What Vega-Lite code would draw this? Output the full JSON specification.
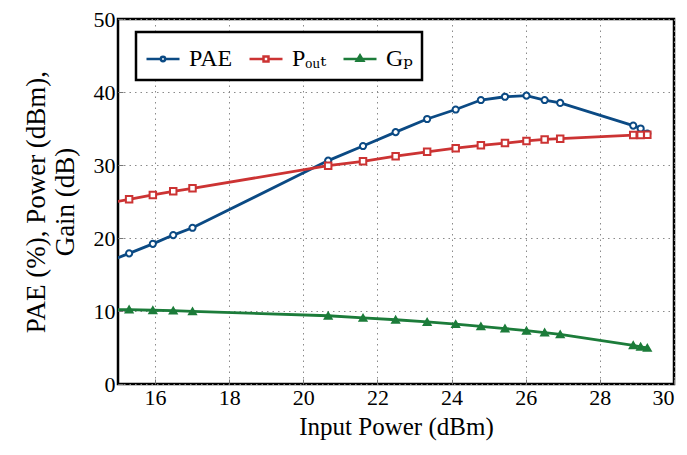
{
  "$schema": "https://vega.github.io/schema/vega-lite/v6.json",
  "width": 556,
  "height": 365,
  "autosize": {"type": "none"},
  "padding": {"left": 118, "top": 19, "right": 13, "bottom": 71},
  "background": "white",
  "config": {
    "font": "'Liberation Serif', 'DejaVu Serif', serif",
    "view": {"stroke": "black", "strokeWidth": 2.5},
    "axis": {
      "domain": false,
      "grid": true,
      "gridColor": "#8a8a8a",
      "gridDash": [1.5, 4],
      "gridWidth": 1,
      "tickSize": -5,
      "tickColor": "#777777",
      "labelFont": "'Liberation Serif', 'DejaVu Serif', serif",
      "labelFontSize": 22,
      "labelColor": "black",
      "labelPadding": 8,
      "titleFont": "'Liberation Serif', 'DejaVu Serif', serif",
      "titleFontSize": 25,
      "titleFontWeight": "normal",
      "titleColor": "black"
    },
    "legend": {"strokeWidth": 2.5}
  },
  "data": {
    "values": [
      {"x": 14.7, "series": "PAE", "y": 16.7},
      {"x": 15.3, "series": "PAE", "y": 17.9},
      {"x": 15.94, "series": "PAE", "y": 19.2},
      {"x": 16.49, "series": "PAE", "y": 20.4},
      {"x": 17.01, "series": "PAE", "y": 21.4},
      {"x": 20.67, "series": "PAE", "y": 30.6},
      {"x": 21.61, "series": "PAE", "y": 32.6},
      {"x": 22.49, "series": "PAE", "y": 34.5},
      {"x": 23.34, "series": "PAE", "y": 36.3},
      {"x": 24.11, "series": "PAE", "y": 37.6},
      {"x": 24.79, "series": "PAE", "y": 38.9},
      {"x": 25.44, "series": "PAE", "y": 39.35},
      {"x": 26.02, "series": "PAE", "y": 39.5},
      {"x": 26.51, "series": "PAE", "y": 38.9},
      {"x": 26.93, "series": "PAE", "y": 38.5},
      {"x": 28.9, "series": "PAE", "y": 35.4},
      {"x": 29.1, "series": "PAE", "y": 35.0},
      {"x": 29.28, "series": "PAE", "y": 34.3},
      {"x": 14.7, "series": "Pout", "y": 24.75},
      {"x": 15.3, "series": "Pout", "y": 25.3},
      {"x": 15.94, "series": "Pout", "y": 25.9},
      {"x": 16.49, "series": "Pout", "y": 26.4},
      {"x": 17.01, "series": "Pout", "y": 26.8},
      {"x": 20.67, "series": "Pout", "y": 29.9},
      {"x": 21.61, "series": "Pout", "y": 30.5},
      {"x": 22.49, "series": "Pout", "y": 31.2},
      {"x": 23.34, "series": "Pout", "y": 31.8},
      {"x": 24.11, "series": "Pout", "y": 32.3},
      {"x": 24.79, "series": "Pout", "y": 32.7},
      {"x": 25.44, "series": "Pout", "y": 33.0},
      {"x": 26.02, "series": "Pout", "y": 33.3},
      {"x": 26.51, "series": "Pout", "y": 33.5},
      {"x": 26.93, "series": "Pout", "y": 33.6},
      {"x": 28.9, "series": "Pout", "y": 34.1},
      {"x": 29.1, "series": "Pout", "y": 34.1},
      {"x": 29.28, "series": "Pout", "y": 34.15},
      {"x": 14.7, "series": "GP", "y": 10.2},
      {"x": 15.3, "series": "GP", "y": 10.2},
      {"x": 15.94, "series": "GP", "y": 10.1},
      {"x": 16.49, "series": "GP", "y": 10.05},
      {"x": 17.01, "series": "GP", "y": 9.95},
      {"x": 20.67, "series": "GP", "y": 9.35},
      {"x": 21.61, "series": "GP", "y": 9.05},
      {"x": 22.49, "series": "GP", "y": 8.8},
      {"x": 23.34, "series": "GP", "y": 8.5},
      {"x": 24.11, "series": "GP", "y": 8.2},
      {"x": 24.79, "series": "GP", "y": 7.9},
      {"x": 25.44, "series": "GP", "y": 7.6},
      {"x": 26.02, "series": "GP", "y": 7.3},
      {"x": 26.51, "series": "GP", "y": 7.05},
      {"x": 26.93, "series": "GP", "y": 6.8},
      {"x": 28.9, "series": "GP", "y": 5.3},
      {"x": 29.1, "series": "GP", "y": 5.1},
      {"x": 29.28, "series": "GP", "y": 4.95}
    ]
  },
  "encoding": {
    "x": {
      "field": "x",
      "type": "quantitative",
      "scale": {"domain": [15, 30], "nice": false, "zero": false},
      "axis": {"values": [16, 18, 20, 22, 24, 26, 28, 30], "title": "Input Power (dBm)", "titlePadding": 6}
    },
    "y": {
      "field": "y",
      "type": "quantitative",
      "scale": {"domain": [0, 50], "nice": false},
      "axis": {"values": [0, 10, 20, 30, 40, 50], "title": ["PAE (%), Power (dBm),", "Gain (dB)"], "titlePadding": 14, "titleFontSize": 27, "titleLineHeight": 29}
    }
  },
  "layer": [
    {
      "mark": {"type": "line", "strokeWidth": 2.8, "clip": true},
      "encoding": {
        "stroke": {
          "field": "series",
          "type": "nominal",
          "scale": {"domain": ["PAE", "Pout", "GP"], "range": ["#0b4a84", "#cc3333", "#1c7c3a"]},
          "legend": null
        }
      }
    },
    {
      "mark": {"type": "point", "strokeWidth": 2, "opacity": 1, "clip": true},
      "encoding": {
        "stroke": {
          "field": "series",
          "type": "nominal",
          "scale": {"domain": ["PAE", "Pout", "GP"], "range": ["#0b4a84", "#cc3333", "#1c7c3a"]},
          "legend": null
        },
        "fill": {
          "field": "series",
          "type": "nominal",
          "scale": {"domain": ["PAE", "Pout", "GP"], "range": ["white", "white", "#1c7c3a"]},
          "legend": null
        },
        "shape": {
          "field": "series",
          "type": "nominal",
          "scale": {"domain": ["PAE", "Pout", "GP"], "range": ["circle", "square", "triangle-up"]},
          "legend": null
        },
        "size": {
          "field": "series",
          "type": "ordinal",
          "scale": {"domain": ["PAE", "Pout", "GP"], "range": [38, 46, 64]},
          "legend": null
        }
      }
    },
    {
      "transform": [{"filter": "datum.x > 100"}],
      "mark": {"type": "point", "filled": false, "fill": "white", "strokeWidth": 2.5, "opacity": 1},
      "encoding": {
        "color": {
          "field": "series",
          "type": "nominal",
          "scale": {"domain": ["PAE", "Pout", "GP"], "range": ["#0b4a84", "#cc3333", "#1c7c3a"]},
          "legend": {
            "title": null,
            "orient": "none",
            "legendX": 18,
            "legendY": 13,
            "direction": "horizontal",
            "strokeColor": "black",
            "fillColor": "white",
            "padding": 9,
            "labelFont": "'Liberation Serif', 'DejaVu Serif', serif",
            "labelFontSize": 24,
            "labelColor": "black",
            "labelOffset": 8,
            "columnPadding": 11,
            "symbolSize": 1089,
            "symbolStrokeWidth": 2.5,
            "symbolFillColor": "white",
            "symbolOpacity": 1,
            "labelExpr": "datum.label == 'Pout' ? 'Pₒᵤₜ' : datum.label == 'GP' ? 'Gₚ' : datum.label"
          }
        },
        "shape": {
          "field": "series",
          "type": "nominal",
          "scale": {
            "domain": ["PAE", "Pout", "GP"],
            "range": [
              "M-1,0H-0.13M0.13,0H1M-0.13,0A0.13,0.13,0,1,0,0.13,0A0.13,0.13,0,1,0,-0.13,0Z",
              "M-1,0H-0.15M0.15,0H1M-0.15,-0.15H0.15V0.15H-0.15Z",
              "M-1,0H1M-0.2,0.1L0,-0.22L0.2,0.1Z"
            ]
          },
          "legend": {
            "title": null,
            "orient": "none",
            "legendX": 18,
            "legendY": 13,
            "direction": "horizontal",
            "strokeColor": "black",
            "fillColor": "white",
            "padding": 9,
            "labelFont": "'Liberation Serif', 'DejaVu Serif', serif",
            "labelFontSize": 24,
            "labelColor": "black",
            "labelOffset": 8,
            "columnPadding": 11,
            "symbolSize": 1089,
            "symbolStrokeWidth": 2.5,
            "symbolFillColor": "white",
            "symbolOpacity": 1,
            "labelExpr": "datum.label == 'Pout' ? 'Pₒᵤₜ' : datum.label == 'GP' ? 'Gₚ' : datum.label"
          }
        }
      }
    }
  ],
  "resolve": {
    "scale": {"shape": "independent", "color": "independent"},
    "legend": {"shape": "independent", "color": "independent"}
  }
}
